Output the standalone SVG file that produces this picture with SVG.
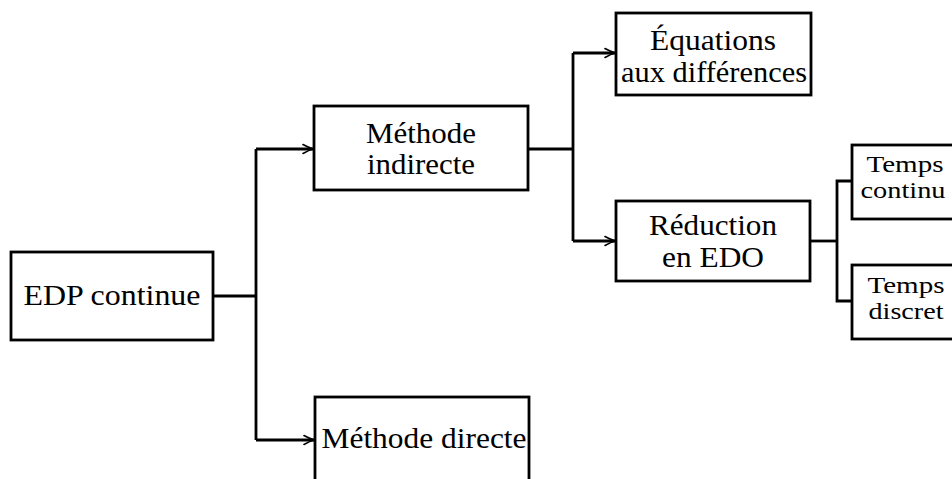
<svg xmlns="http://www.w3.org/2000/svg" width="952" height="479" viewBox="0 0 952 479">
<style>
.box{fill:#fff;stroke:#000;stroke-width:2.8}
.t{font-family:'Liberation Serif','DejaVu Serif','Times New Roman',serif;font-size:30px;fill:#000;text-anchor:middle}
.s{font-family:'Liberation Serif','DejaVu Serif','Times New Roman',serif;font-size:24px;fill:#000;text-anchor:middle}
.c{fill:none;stroke:#000;stroke-width:2.8}
</style>
<defs>
<marker id="arr" markerUnits="userSpaceOnUse" markerWidth="14" markerHeight="12" refX="12" refY="6" orient="auto" viewBox="0 0 14 12">
<path d="M2,1.6 Q8,5 12.5,6 Q8,7 2,10.4" fill="none" stroke="#000" stroke-width="1.7" stroke-linecap="round"/>
</marker>
</defs>
<g id="connectors">
<path class="c" d="M213,296 H256"/>
<path class="c" d="M256,149 V440"/>
<path class="c" d="M256,149 H313" marker-end="url(#arr)"/>
<path class="c" d="M256,440 H314" marker-end="url(#arr)"/>
<path class="c" d="M528,149 H573"/>
<path class="c" d="M573,53 V241"/>
<path class="c" d="M573,53 H615" marker-end="url(#arr)"/>
<path class="c" d="M573,241 H615" marker-end="url(#arr)"/>
<path class="c" d="M810,241 H837"/>
<path class="c" d="M852,181 H837 V301 H852"/>
</g>
<g id="edp">
<rect class="box" x="11" y="252" width="202" height="88"/>
<text class="t" x="112" y="305" textLength="177" lengthAdjust="spacingAndGlyphs">EDP continue</text>
</g>
<g id="indirecte">
<rect class="box" x="314" y="106" width="214" height="84"/>
<text class="t" x="421" y="143" textLength="110" lengthAdjust="spacingAndGlyphs">Méthode</text>
<text class="t" x="421" y="174" textLength="108" lengthAdjust="spacingAndGlyphs">indirecte</text>
</g>
<g id="directe">
<rect class="box" x="315" y="397" width="214" height="88"/>
<text class="t" x="424" y="448" textLength="205" lengthAdjust="spacingAndGlyphs">Méthode directe</text>
</g>
<g id="equations">
<rect class="box" x="616" y="13" width="195" height="82"/>
<text class="t" x="713" y="50" textLength="126" lengthAdjust="spacingAndGlyphs">Équations</text>
<text class="t" x="714" y="82" textLength="186" lengthAdjust="spacingAndGlyphs">aux différences</text>
</g>
<g id="reduction">
<rect class="box" x="616" y="201" width="194" height="80"/>
<text class="t" x="713" y="235" textLength="128" lengthAdjust="spacingAndGlyphs">Réduction</text>
<text class="t" x="713" y="267" textLength="102" lengthAdjust="spacingAndGlyphs">en EDO</text>
</g>
<g id="temps-continu">
<rect class="box" x="852" y="145" width="110" height="74"/>
<text class="s" x="905" y="172" textLength="77" lengthAdjust="spacingAndGlyphs">Temps</text>
<text class="s" x="903" y="198" textLength="85" lengthAdjust="spacingAndGlyphs">continu</text>
</g>
<g id="temps-discret">
<rect class="box" x="852" y="265" width="110" height="74"/>
<text class="s" x="906" y="293" textLength="77" lengthAdjust="spacingAndGlyphs">Temps</text>
<text class="s" x="906" y="319" textLength="75" lengthAdjust="spacingAndGlyphs">discret</text>
</g>
</svg>
